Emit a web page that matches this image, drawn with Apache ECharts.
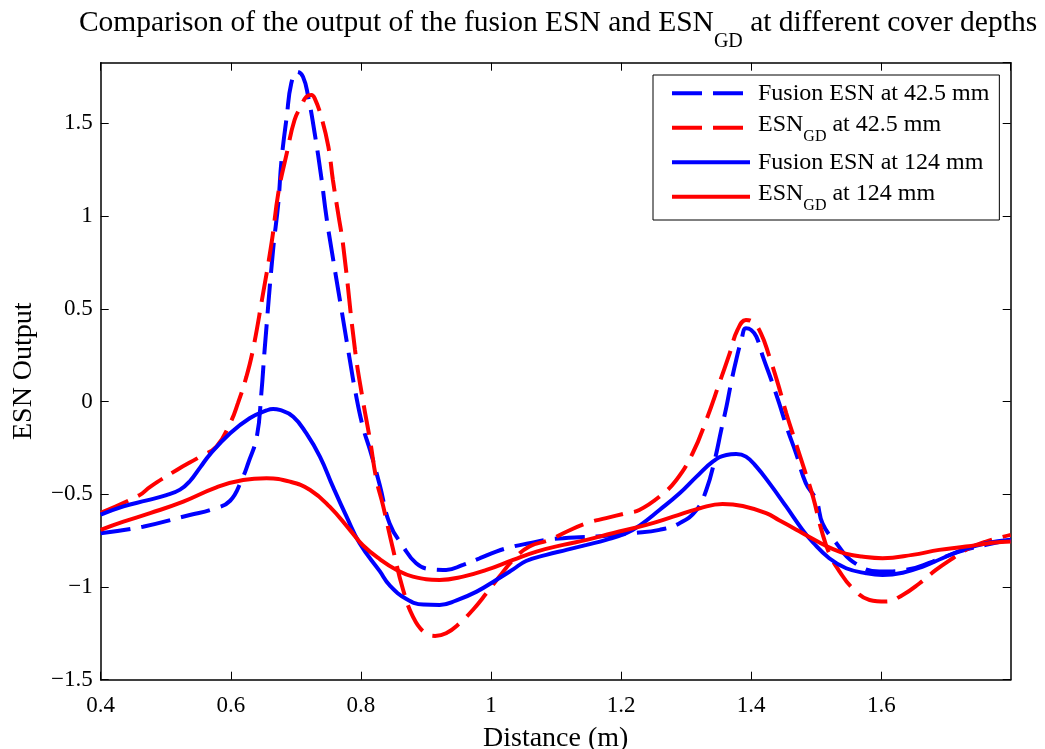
<!DOCTYPE html>
<html><head><meta charset="utf-8">
<script src="https://cdn.jsdelivr.net/npm/echarts@6/dist/echarts.min.js"></script>
<style>html,body{margin:0;padding:0;background:#fff}#chart{width:1045px;height:749px}</style>
</head><body><div id="chart"></div>
<script>
// ---- data ----
const xTicks = [0.4, 0.6, 0.8, 1, 1.2, 1.4, 1.6];
const yTicks = [-1.5, -1, -0.5, 0, 0.5, 1, 1.5];

const xFusion425 = [0.400,0.465,0.537,0.573,0.599,0.617,0.627,0.640,0.647,0.652,0.665,0.673,0.678,0.686,0.693,0.702,0.711,0.719,0.729,0.739,0.747,0.755,0.769,0.783,0.791,0.803,0.814,0.829,0.844,0.865,0.885,0.906,0.931,0.957,0.983,1.008,1.034,1.059,1.085,1.111,1.136,1.162,1.187,1.218,1.259,1.290,1.316,1.331,1.344,1.354,1.362,1.369,1.377,1.385,1.392,1.400,1.408,1.418,1.431,1.443,1.456,1.469,1.484,1.500,1.510,1.531,1.556,1.597,1.638,1.679,1.720,1.761,1.799];
const yFusion425 = [-0.71,-0.675,-0.612,-0.58,-0.535,-0.42,-0.33,-0.19,0.045,0.278,0.817,1.069,1.302,1.536,1.716,1.778,1.751,1.643,1.446,1.212,0.996,0.817,0.52,0.224,0.062,-0.136,-0.261,-0.45,-0.656,-0.782,-0.872,-0.904,-0.908,-0.881,-0.845,-0.809,-0.782,-0.764,-0.746,-0.737,-0.732,-0.728,-0.72,-0.71,-0.692,-0.656,-0.585,-0.477,-0.315,-0.153,-0.028,0.098,0.224,0.332,0.395,0.386,0.35,0.242,0.116,-0.009,-0.153,-0.279,-0.44,-0.531,-0.66,-0.764,-0.863,-0.917,-0.908,-0.863,-0.809,-0.773,-0.746];

const xGD425 = [0.400,0.460,0.476,0.517,0.553,0.578,0.599,0.611,0.624,0.634,0.648,0.663,0.673,0.686,0.698,0.709,0.716,0.724,0.729,0.739,0.750,0.757,0.765,0.773,0.791,0.803,0.814,0.824,0.834,0.849,0.865,0.880,0.896,0.914,0.931,0.952,0.972,0.993,1.013,1.034,1.059,1.090,1.116,1.147,1.177,1.208,1.228,1.259,1.285,1.310,1.331,1.351,1.367,1.379,1.392,1.402,1.415,1.428,1.441,1.454,1.467,1.482,1.495,1.508,1.520,1.536,1.556,1.582,1.607,1.633,1.659,1.684,1.710,1.735,1.761,1.799];
const yGD425 = [-0.60,-0.504,-0.46,-0.369,-0.297,-0.243,-0.117,-0.009,0.134,0.278,0.55,0.862,1.123,1.338,1.518,1.599,1.643,1.653,1.635,1.536,1.374,1.194,1.015,0.835,0.278,0.008,-0.207,-0.423,-0.56,-0.79,-1.016,-1.16,-1.24,-1.264,-1.25,-1.195,-1.124,-1.034,-0.944,-0.854,-0.782,-0.746,-0.702,-0.656,-0.629,-0.602,-0.585,-0.513,-0.423,-0.279,-0.1,0.098,0.26,0.386,0.44,0.43,0.368,0.242,0.098,-0.063,-0.207,-0.369,-0.513,-0.692,-0.818,-0.917,-1.007,-1.07,-1.079,-1.043,-0.98,-0.908,-0.845,-0.791,-0.755,-0.719];

const xFusion124 = [0.400,0.435,0.471,0.501,0.522,0.537,0.553,0.568,0.599,0.629,0.655,0.665,0.675,0.696,0.716,0.737,0.757,0.778,0.798,0.829,0.844,0.870,0.896,0.921,0.947,0.978,1.008,1.034,1.054,1.085,1.116,1.147,1.177,1.208,1.228,1.259,1.290,1.316,1.341,1.362,1.377,1.392,1.408,1.428,1.454,1.479,1.495,1.520,1.546,1.577,1.602,1.633,1.664,1.694,1.725,1.761,1.799];
const yFusion124 = [-0.61,-0.565,-0.533,-0.505,-0.475,-0.43,-0.355,-0.285,-0.171,-0.09,-0.048,-0.04,-0.045,-0.082,-0.171,-0.297,-0.459,-0.621,-0.764,-0.915,-0.99,-1.065,-1.095,-1.097,-1.072,-1.025,-0.962,-0.905,-0.86,-0.827,-0.80,-0.773,-0.746,-0.71,-0.67,-0.585,-0.495,-0.405,-0.324,-0.288,-0.283,-0.297,-0.351,-0.44,-0.567,-0.692,-0.76,-0.845,-0.899,-0.926,-0.935,-0.923,-0.89,-0.845,-0.80,-0.764,-0.746];

const xGD124 = [0.400,0.435,0.476,0.527,0.578,0.619,0.655,0.691,0.722,0.752,0.783,0.803,0.829,0.855,0.880,0.921,0.957,0.993,1.034,1.070,1.111,1.147,1.187,1.239,1.280,1.321,1.356,1.387,1.423,1.443,1.464,1.484,1.505,1.525,1.545,1.570,1.602,1.648,1.689,1.730,1.771,1.799];
const yGD124 = [-0.692,-0.648,-0.602,-0.54,-0.463,-0.423,-0.414,-0.432,-0.477,-0.567,-0.692,-0.775,-0.85,-0.908,-0.944,-0.962,-0.944,-0.908,-0.854,-0.809,-0.773,-0.746,-0.71,-0.665,-0.621,-0.576,-0.552,-0.563,-0.602,-0.64,-0.68,-0.72,-0.76,-0.795,-0.82,-0.836,-0.845,-0.827,-0.80,-0.782,-0.762,-0.755];

const seriesNames = ['Fusion ESN at 42.5 mm', 'ESN_GD at 42.5 mm', 'Fusion ESN at 124 mm', 'ESN_GD at 124 mm'];

// ---- chart ----
const FONT = "'Liberation Serif', 'Times New Roman', serif";
const zip = (xs, ys) => xs.map((x, i) => [x, ys[i]]);
const fmtNum = v => (v < 0 ? '\u2212' : '') + String(Math.abs(Math.round(v * 1000) / 1000));

const chart = echarts.init(document.getElementById('chart'), null, { renderer: 'canvas' });

const axisCommon = {
  type: 'value',
  axisLine: { show: true, onZero: false, lineStyle: { color: '#000', width: 1.5 } },
  axisTick: { show: true, inside: true, length: 8, lineStyle: { color: '#000', width: 1 } },
  splitLine: { show: false },
};

const xMin = 0.4, xMax = 1.799, yMin = -1.5, yMax = 1.827;

function mk(name, xs, ys, color, dashed) {
  return {
    name: name, type: 'line', data: zip(xs, ys),
    xAxisIndex: 0, yAxisIndex: 0,
    symbol: 'none', smooth: 0.45,
    lineStyle: { color: color, width: 4, type: dashed ? [30, 11] : 'solid' },
    itemStyle: { color: color },
    emphasis: { disabled: true },
  };
}

function legendLabel(name) {
  if (name.indexOf('ESN_GD') === 0) {
    return '{m|ESN}{sub|GD}{m|' + name.slice(6) + '}';
  }
  return name;
}

chart.setOption({
  animation: false,
  backgroundColor: '#fff',
  title: {
    text: 'Comparison of the output of the fusion ESN and ESN{sub|GD} at different cover depths',
    left: 558, textAlign: 'center', top: 3, padding: 0,
    textStyle: {
      fontFamily: FONT, fontSize: 29.5, fontWeight: 'normal', color: '#000', lineHeight: 40,
      rich: { sub: { fontFamily: FONT, fontSize: 20, color: '#000', lineHeight: 6, padding: [38, 0, 0, 0] } },
    },
  },
  grid: { left: 100.7, top: 62.7, right: 34.3, bottom: 69.3, containLabel: false, outerBoundsMode: 'none' },
  legend: {
    data: seriesNames,
    orient: 'vertical', left: 653, top: 75,
    itemWidth: 78, itemHeight: 14, itemGap: 0,
    padding: [1, 10, 6, 17],
    backgroundColor: '#fff', borderColor: '#000', borderWidth: 1,
    itemStyle: { opacity: 0 },
    lineStyle: { width: 4 },
    formatter: legendLabel,
    textStyle: {
      fontFamily: FONT, fontSize: 24, color: '#000', lineHeight: 34.5, padding: [0, 0, 0, 3],
      rich: {
        m: { fontFamily: FONT, fontSize: 24, color: '#000', lineHeight: 34.5, padding: [0, 0, 7, 0] },
        sub: { fontFamily: FONT, fontSize: 16, color: '#000', lineHeight: 34.5, padding: [18.5, 0, 0, 0] },
      },
    },
  },
  xAxis: [
    Object.assign({}, axisCommon, {
      position: 'bottom', min: xMin, max: xMax, interval: 0.2,
      name: 'Distance (m)', nameLocation: 'middle', nameGap: 45,
      nameTextStyle: { fontFamily: FONT, fontSize: 28, color: '#000' },
      axisLabel: { show: true, margin: 15, showMaxLabel: false, fontFamily: FONT, fontSize: 23, color: '#000', formatter: fmtNum },
    }),
    Object.assign({}, axisCommon, {
      position: 'top', min: xMin, max: xMax, interval: 0.2, axisLabel: { show: false },
    }),
  ],
  yAxis: [
    Object.assign({}, axisCommon, {
      position: 'left', min: yMin, max: yMax, interval: 0.5,
      name: 'ESN Output', nameLocation: 'middle', nameGap: 63.5, nameRotate: 90,
      nameTextStyle: { fontFamily: FONT, fontSize: 28, color: '#000' },
      axisLabel: { show: true, margin: 8, showMaxLabel: false, fontFamily: FONT, fontSize: 23, color: '#000', formatter: fmtNum },
    }),
    Object.assign({}, axisCommon, {
      position: 'right', min: yMin, max: yMax, interval: 0.5, axisLabel: { show: false },
    }),
  ],
  series: [
    mk(seriesNames[0], xFusion425, yFusion425, '#0000ff', true),
    mk(seriesNames[1], xGD425, yGD425, '#ff0000', true),
    mk(seriesNames[2], xFusion124, yFusion124, '#0000ff', false),
    mk(seriesNames[3], xGD124, yGD124, '#ff0000', false),
  ],
});
</script>
</body></html>
